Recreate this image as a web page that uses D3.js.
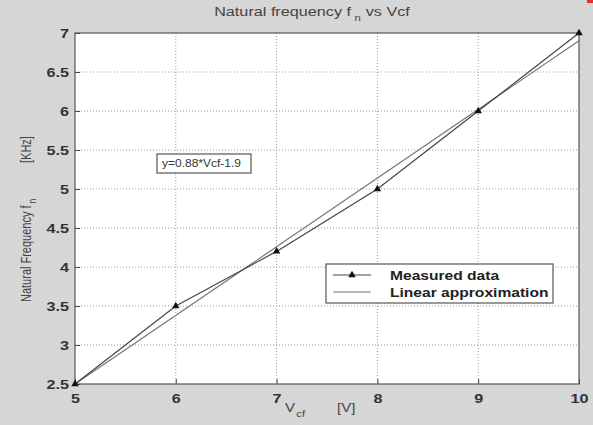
<!DOCTYPE html>
<html><head><meta charset="utf-8">
<script src="https://cdn.jsdelivr.net/npm/d3@7"></script>
<style>body{margin:0;background:#d6d6d6;} svg{display:block;}</style>
</head><body>
<script>
const vcf = [5, 6, 7, 8, 9, 10];
const measured = [2.5, 3.5, 4.2, 5.0, 6.0, 7.0];
const fitSlope = 0.88, fitIntercept = -1.9;
const fitX = [5, 10];
const fitY = fitX.map(x => +(fitSlope * x + fitIntercept).toFixed(2));
const xTicks = [5, 6, 7, 8, 9, 10];
const yTicks = [2.5, 3, 3.5, 4, 4.5, 5, 5.5, 6, 6.5, 7];

const W = 593, H = 425;
const m = {l: 75, r: 14, t: 33, b: 41};
const SX = 1.2; // horizontal stretch of text seen in the reference
const font = "Liberation Sans, Arial, sans-serif";
const svg = d3.select("body").append("svg").attr("width", W).attr("height", H);
svg.append("rect").attr("width", W).attr("height", H).attr("fill", "#d6d6d6");
svg.append("rect").attr("x", 587).attr("y", 0).attr("width", 6).attr("height", 3).attr("fill", "#e03030");

const x = d3.scaleLinear().domain([5, 10]).range([m.l, W - m.r]);
const y = d3.scaleLinear().domain([2.5, 7]).range([H - m.b, m.t]);

svg.append("rect").attr("x", m.l).attr("y", m.t).attr("width", W - m.r - m.l).attr("height", H - m.b - m.t).attr("fill", "#fff");

function txt(parent, px, py, sx, sy) {
  return parent.append("text").attr("transform", `translate(${px},${py}) scale(${sx || SX},${sy || 1})`)
    .attr("font-family", font);
}

// grid
const g = svg.append("g");
g.selectAll(".gx").data(xTicks.slice(1, -1)).join("line")
  .attr("x1", d => x(d)).attr("x2", d => x(d)).attr("y1", m.t).attr("y2", H - m.b)
  .attr("stroke", "#999").attr("stroke-dasharray", "1,2");
g.selectAll(".gy").data(yTicks.slice(1, -1)).join("line")
  .attr("y1", d => y(d)).attr("y2", d => y(d)).attr("x1", m.l).attr("x2", W - m.r)
  .attr("stroke", "#999").attr("stroke-dasharray", "1,2");

// axes
const xAxis = d3.axisBottom(x).tickValues(xTicks).tickSize(-5).tickPadding(9).tickFormat(d3.format("d"));
const yAxis = d3.axisLeft(y).tickValues(yTicks).tickSize(-5).tickPadding(5).tickFormat(d => d);
const ax = svg.append("g").attr("transform", `translate(0,${H - m.b})`).call(xAxis);
const ay = svg.append("g").attr("transform", `translate(${m.l},0)`).call(yAxis);
[ax, ay].forEach(a => {
  a.select(".domain").remove();
  a.selectAll("line").attr("stroke", "#444");
  a.selectAll("text").attr("font-family", font).attr("font-weight", "bold").attr("font-size", 13.5).attr("fill", "#333");
});
ay.selectAll("text").attr("x", -6 / SX).attr("transform", `scale(${SX},1)`);
ax.selectAll("text").attr("transform", `scale(${SX},1)`);
svg.append("rect").attr("x", m.l).attr("y", m.t).attr("width", W - m.r - m.l).attr("height", H - m.b - m.t)
  .attr("fill", "none").attr("stroke", "#555").attr("stroke-width", 1.2);

// lines
const line = d3.line().x(d => x(d[0])).y(d => y(d[1]));
svg.append("path").datum(fitX.map((v, i) => [v, fitY[i]])).attr("d", line)
  .attr("fill", "none").attr("stroke", "#777").attr("stroke-width", 1.2);
svg.append("path").datum(vcf.map((v, i) => [v, measured[i]])).attr("d", line)
  .attr("fill", "none").attr("stroke", "#444").attr("stroke-width", 1.2);
const tri = d3.symbol().type(d3.symbolTriangle).size(24);
svg.selectAll(".mk").data(vcf.map((v, i) => [v, measured[i]])).join("path")
  .attr("d", tri).attr("transform", d => `translate(${x(d[0])},${y(d[1])})`).attr("fill", "#111");

// title
const t = txt(svg, 312, 16).attr("text-anchor", "middle").attr("font-size", 13.5).attr("fill", "#444");
t.append("tspan").text("Natural frequency f");
t.append("tspan").attr("dy", 5).attr("dx", 3).attr("font-size", 9.5).text("n");
t.append("tspan").attr("dy", -5).attr("dx", 4).text("vs Vcf");

// x label
const xl = txt(svg, 285, 412).attr("font-size", 12.5).attr("fill", "#444");
xl.append("tspan").text("V");
xl.append("tspan").attr("dy", 5).attr("dx", 1).attr("font-size", 9.5).text("cf");
txt(svg, 337, 412).attr("font-size", 12.5).attr("fill", "#444").text("[V]");

// y label
const yl = svg.append("text").attr("font-family", font).attr("font-size", 11).attr("fill", "#444")
  .attr("transform", "translate(31,302) rotate(-90) scale(1,1.3)");
yl.append("tspan").text("Natural Frequency f");
yl.append("tspan").attr("dy", 4).attr("dx", 2).attr("font-size", 8.5).text("n");
svg.append("text").attr("font-family", font).attr("transform", "translate(31,163) rotate(-90) scale(1,1.3)")
  .attr("font-size", 11).attr("fill", "#444").text("[KHz]");

// annotation box
svg.append("rect").attr("x", 157).attr("y", 154).attr("width", 94).attr("height", 19)
  .attr("fill", "#fff").attr("stroke", "#555").attr("stroke-width", 1.2);
txt(svg, 162, 167).attr("font-size", 10).attr("fill", "#333").text("y=0.88*Vcf-1.9");

// legend
const lg = svg.append("g");
lg.append("rect").attr("x", 326).attr("y", 264).attr("width", 227).attr("height", 39)
  .attr("fill", "#fff").attr("stroke", "#555").attr("stroke-width", 1.2);
lg.append("line").attr("x1", 333).attr("x2", 371).attr("y1", 275).attr("y2", 275).attr("stroke", "#444").attr("stroke-width", 1.2);
lg.append("path").attr("d", tri).attr("transform", "translate(352,275)").attr("fill", "#111");
lg.append("line").attr("x1", 333).attr("x2", 371).attr("y1", 292).attr("y2", 292).attr("stroke", "#777").attr("stroke-width", 1.2);
txt(lg, 390, 280).attr("font-weight", "bold").attr("font-size", 13).attr("fill", "#222").text("Measured data");
txt(lg, 390, 297).attr("font-weight", "bold").attr("font-size", 13).attr("fill", "#222").text("Linear approximation");
</script>
</body></html>
